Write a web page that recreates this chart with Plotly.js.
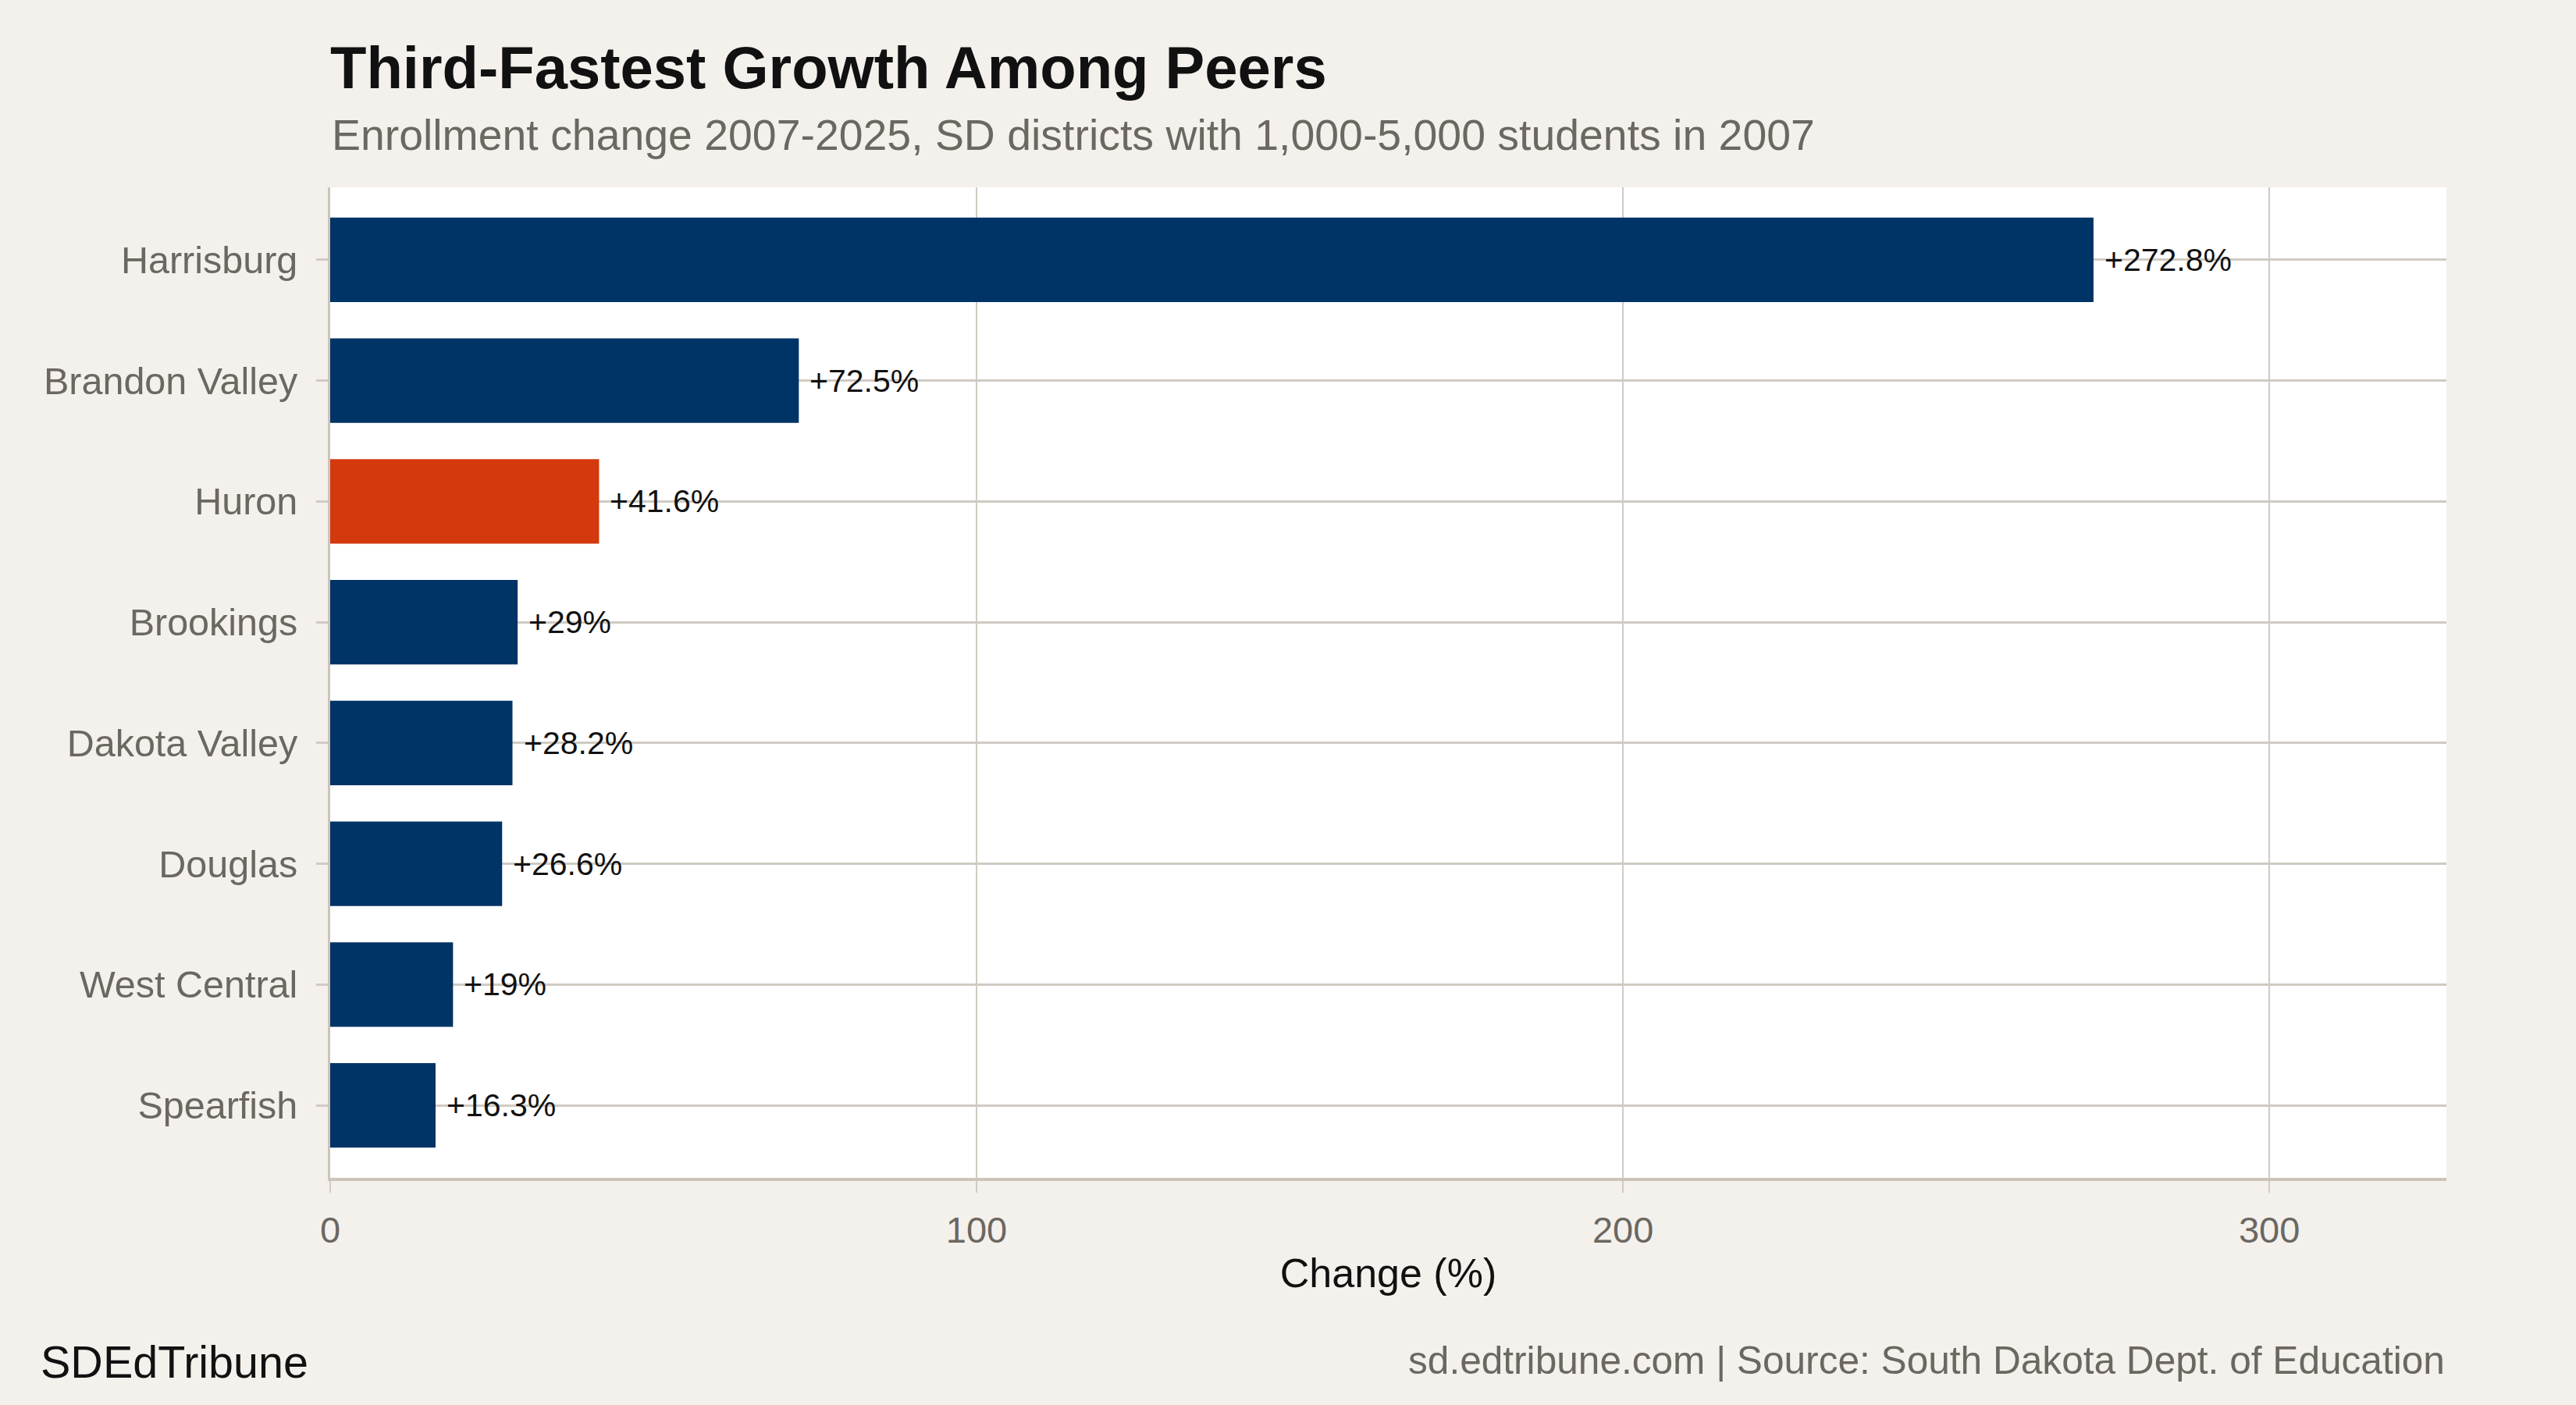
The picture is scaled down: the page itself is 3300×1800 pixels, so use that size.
<!DOCTYPE html>
<html>
<head>
<meta charset="utf-8">
<script src="https://cdn.plot.ly/plotly-3.0.1.min.js"></script>
<style>html,body{margin:0;padding:0;background:#F4F1EC;}#chart{width:3300px;height:1800px;}</style>
</head>
<body>
<div id="chart"></div>
<script>
const districts = ["Harrisburg", "Brandon Valley", "Huron", "Brookings", "Dakota Valley", "Douglas", "West Central", "Spearfish"];
const changePct = [272.8, 72.5, 41.6, 29, 28.2, 26.6, 19, 16.3];
const valueLabels = ["+272.8%", "+72.5%", "+41.6%", "+29%", "+28.2%", "+26.6%", "+19%", "+16.3%"];
const highlighted = "Huron";
const xTicks = [0, 100, 200, 300];

const NAVY = "#003366", ORANGE = "#D4380D", GRID = "#D0CBC3", BG = "#F4F1EC";
const FONT = "Liberation Sans, Arial, Helvetica, sans-serif";

const trace = {
  type: "bar",
  orientation: "h",
  y: districts,
  x: changePct,
  width: 0.7,
  marker: {color: districts.map(d => d === highlighted ? ORANGE : NAVY)},
  hoverinfo: "none"
};

const annotations = districts.map((d, i) => ({
  x: changePct[i], y: d, xref: "x", yref: "y",
  text: valueLabels[i], showarrow: false,
  xanchor: "left", yanchor: "middle", xshift: 12,
  font: {family: FONT, size: 41, color: "#111111"}
}));

annotations.push({
  xref: "paper", yref: "paper", x: 0, y: (1509 - 173) / 1269,
  text: "Enrollment change 2007-2025, SD districts with 1,000-5,000 students in 2007",
  showarrow: false, xanchor: "left", yanchor: "middle",
  font: {family: FONT, size: 55.4, color: "#6B6761"}
});
annotations.push({
  xref: "paper", yref: "paper", x: (50 - 423) / 2711, y: (1509 - 1745) / 1269,
  text: "SDEdTribune", showarrow: false, xanchor: "left", yanchor: "middle",
  font: {family: FONT, size: 57.5, color: "#111111"}
});
annotations.push({
  xref: "paper", yref: "paper", x: 1, y: (1509 - 1743) / 1269,
  text: "sd.edtribune.com | Source: South Dakota Dept. of Education", showarrow: false,
  xanchor: "right", yanchor: "middle",
  font: {family: FONT, size: 49.6, color: "#6B6761"}
});

const layout = {
  width: 3300, height: 1800,
  paper_bgcolor: BG, plot_bgcolor: "#FFFFFF",
  margin: {l: 423, r: 166, t: 240, b: 291, pad: 0},
  showlegend: false,
  font: {family: FONT},
  title: {
    text: "<b>Third-Fastest Growth Among Peers</b>",
    font: {family: FONT, size: 76, color: "#111111"},
    x: 423 / 3300, xanchor: "left", xref: "container",
    y: 1 - 86 / 1800, yanchor: "middle", yref: "container"
  },
  xaxis: {
    range: [0, 327.4], tickvals: xTicks, ticktext: xTicks.map(String),
    showgrid: true, gridcolor: GRID, gridwidth: 2,
    zeroline: false,
    showline: true, linecolor: "#CBC4BB", linewidth: 4,
    ticks: "outside", ticklen: 15, tickwidth: 2, tickcolor: GRID,
    tickfont: {family: FONT, size: 47, color: "#6B6761"},
    ticklabelstandoff: 8,
    title: {text: "Change (%)", font: {family: FONT, size: 52, color: "#111111"}, standoff: 12},
    fixedrange: true
  },
  yaxis: {
    type: "category", categoryorder: "array", categoryarray: districts,
    range: [7.6, -0.6],
    showgrid: true, gridcolor: GRID, gridwidth: 3,
    zeroline: false,
    showline: true, linecolor: "#CBC4BB", linewidth: 3,
    ticks: "outside", ticklen: 15, tickwidth: 3, tickcolor: GRID,
    tickfont: {family: FONT, size: 48.5, color: "#6B6761"},
    ticklabelstandoff: 14,
    fixedrange: true
  },
  annotations: annotations,
  bargap: 0.3
};

Plotly.newPlot("chart", [trace], layout, {displayModeBar: false, staticPlot: true});
</script>
</body>
</html>
